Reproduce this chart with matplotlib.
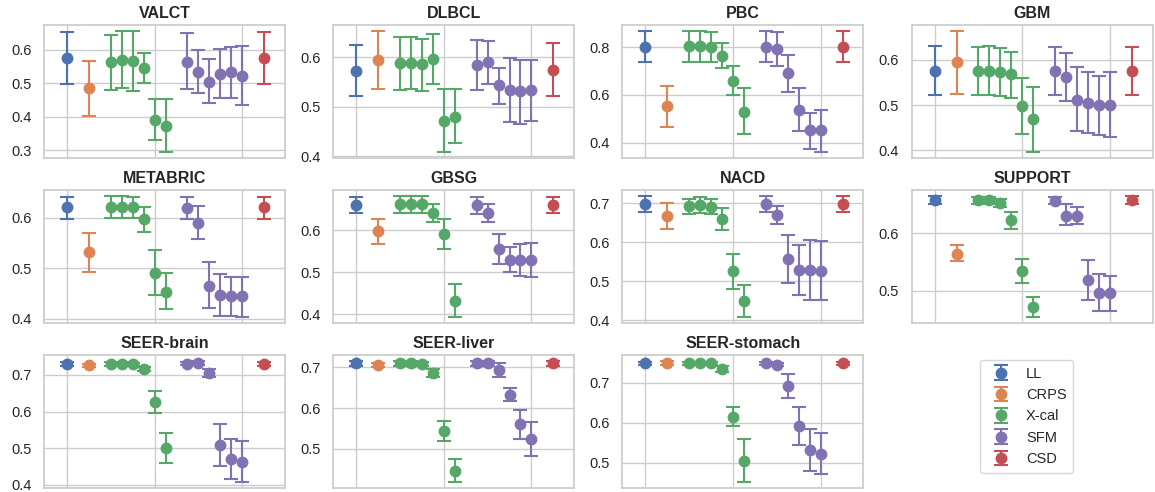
import matplotlib
matplotlib.use("Agg")
import matplotlib.pyplot as plt
from matplotlib.ticker import MultipleLocator, NullFormatter, FixedLocator
import seaborn as sns

sns.set_theme(style="whitegrid")
plt.rcParams['font.family'] = ['Liberation Sans', 'DejaVu Sans']

methods = ["LL", "CRPS", "X-cal", "SFM", "CSD"]
method_counts = [1, 1, 6, 6, 1]
colors = ["#4C72B0", "#DD8452", "#55A868", "#8172B3", "#C44E52"]

datasets = ["VALCT", "DLBCL", "PBC", "GBM", "METABRIC", "GBSG", "NACD",
            "SUPPORT", "SEER-brain", "SEER-liver", "SEER-stomach"]

# order: LL, CRPS, X-cal x6, SFM x6, CSD
VALCT_mean = [0.575, 0.485, 0.563, 0.570, 0.566, 0.545, 0.392, 0.373, 0.565, 0.534, 0.505, 0.527, 0.533, 0.522, 0.575]
VALCT_low  = [0.498, 0.403, 0.481, 0.486, 0.476, 0.501, 0.332, 0.296, 0.482, 0.470, 0.442, 0.455, 0.455, 0.434, 0.497]
VALCT_high = [0.653, 0.568, 0.645, 0.655, 0.656, 0.591, 0.454, 0.454, 0.651, 0.600, 0.572, 0.603, 0.609, 0.611, 0.654]

DLBCL_mean = [0.572, 0.594, 0.588, 0.589, 0.586, 0.596, 0.471, 0.480, 0.584, 0.591, 0.543, 0.534, 0.531, 0.534, 0.574]
DLBCL_low  = [0.521, 0.535, 0.534, 0.536, 0.531, 0.547, 0.409, 0.426, 0.533, 0.546, 0.505, 0.469, 0.466, 0.472, 0.521]
DLBCL_high = [0.624, 0.653, 0.642, 0.642, 0.638, 0.647, 0.535, 0.536, 0.636, 0.634, 0.579, 0.599, 0.595, 0.594, 0.628]

PBC_mean = [0.800, 0.552, 0.803, 0.803, 0.799, 0.764, 0.660, 0.530, 0.801, 0.794, 0.690, 0.538, 0.452, 0.452, 0.800]
PBC_low  = [0.737, 0.467, 0.738, 0.738, 0.736, 0.712, 0.600, 0.435, 0.736, 0.723, 0.613, 0.449, 0.375, 0.362, 0.737]
PBC_high = [0.866, 0.639, 0.867, 0.867, 0.862, 0.818, 0.719, 0.627, 0.866, 0.863, 0.765, 0.628, 0.526, 0.536, 0.866]

GBM_mean = [0.576, 0.594, 0.576, 0.576, 0.573, 0.568, 0.498, 0.469, 0.575, 0.562, 0.512, 0.504, 0.500, 0.500, 0.575]
GBM_low  = [0.523, 0.524, 0.523, 0.523, 0.520, 0.516, 0.437, 0.397, 0.523, 0.508, 0.442, 0.439, 0.434, 0.429, 0.522]
GBM_high = [0.631, 0.663, 0.628, 0.630, 0.625, 0.618, 0.559, 0.539, 0.627, 0.615, 0.583, 0.572, 0.565, 0.572, 0.627]

METABRIC_mean = [0.621, 0.532, 0.622, 0.622, 0.621, 0.598, 0.491, 0.453, 0.619, 0.590, 0.466, 0.448, 0.445, 0.445, 0.621]
METABRIC_low  = [0.598, 0.493, 0.600, 0.600, 0.599, 0.573, 0.447, 0.420, 0.597, 0.558, 0.421, 0.406, 0.405, 0.404, 0.598]
METABRIC_high = [0.642, 0.571, 0.643, 0.643, 0.641, 0.622, 0.536, 0.490, 0.641, 0.623, 0.512, 0.488, 0.484, 0.484, 0.642]

GBSG_mean = [0.660, 0.598, 0.661, 0.661, 0.661, 0.641, 0.590, 0.432, 0.659, 0.641, 0.555, 0.529, 0.529, 0.529, 0.660]
GBSG_low  = [0.641, 0.568, 0.641, 0.641, 0.641, 0.620, 0.555, 0.394, 0.638, 0.619, 0.520, 0.500, 0.492, 0.488, 0.641]
GBSG_high = [0.679, 0.627, 0.680, 0.680, 0.680, 0.661, 0.625, 0.471, 0.678, 0.662, 0.590, 0.560, 0.567, 0.570, 0.679]

NACD_mean = [0.698, 0.667, 0.692, 0.695, 0.691, 0.661, 0.526, 0.450, 0.697, 0.669, 0.557, 0.529, 0.529, 0.527, 0.698]
NACD_low  = [0.679, 0.634, 0.673, 0.675, 0.673, 0.631, 0.480, 0.409, 0.679, 0.647, 0.497, 0.464, 0.453, 0.452, 0.679]
NACD_high = [0.718, 0.700, 0.712, 0.715, 0.710, 0.689, 0.570, 0.491, 0.718, 0.693, 0.619, 0.594, 0.605, 0.604, 0.718]

SUPPORT_mean = [0.659, 0.564, 0.658, 0.658, 0.654, 0.623, 0.534, 0.471, 0.657, 0.631, 0.631, 0.519, 0.496, 0.495, 0.659]
SUPPORT_low  = [0.652, 0.551, 0.651, 0.651, 0.646, 0.608, 0.513, 0.454, 0.651, 0.614, 0.617, 0.484, 0.464, 0.464, 0.652]
SUPPORT_high = [0.665, 0.579, 0.664, 0.664, 0.661, 0.638, 0.556, 0.489, 0.664, 0.651, 0.646, 0.554, 0.529, 0.525, 0.665]

SEERbrain_mean = [0.730, 0.726, 0.730, 0.730, 0.729, 0.716, 0.627, 0.501, 0.731, 0.732, 0.705, 0.509, 0.471, 0.463, 0.730]
SEERbrain_low  = [0.725, 0.721, 0.725, 0.725, 0.724, 0.710, 0.597, 0.461, 0.726, 0.727, 0.694, 0.453, 0.417, 0.408, 0.725]
SEERbrain_high = [0.735, 0.731, 0.735, 0.735, 0.734, 0.722, 0.655, 0.543, 0.736, 0.737, 0.717, 0.566, 0.525, 0.519, 0.735]

SEERliver_mean = [0.709, 0.705, 0.709, 0.709, 0.707, 0.686, 0.544, 0.447, 0.709, 0.709, 0.693, 0.633, 0.560, 0.524, 0.709]
SEERliver_low  = [0.704, 0.701, 0.704, 0.704, 0.702, 0.676, 0.520, 0.419, 0.704, 0.704, 0.676, 0.616, 0.524, 0.483, 0.704]
SEERliver_high = [0.714, 0.709, 0.714, 0.714, 0.712, 0.696, 0.568, 0.476, 0.714, 0.714, 0.710, 0.650, 0.596, 0.565, 0.714]

SEERstomach_mean = [0.749, 0.750, 0.749, 0.749, 0.749, 0.735, 0.615, 0.504, 0.749, 0.746, 0.692, 0.593, 0.531, 0.522, 0.749]
SEERstomach_low  = [0.745, 0.746, 0.745, 0.745, 0.745, 0.728, 0.591, 0.451, 0.745, 0.742, 0.662, 0.545, 0.479, 0.470, 0.745]
SEERstomach_high = [0.753, 0.754, 0.753, 0.753, 0.753, 0.742, 0.640, 0.559, 0.753, 0.750, 0.722, 0.640, 0.583, 0.574, 0.753]

means = [VALCT_mean, DLBCL_mean, PBC_mean, GBM_mean, METABRIC_mean, GBSG_mean,
         NACD_mean, SUPPORT_mean, SEERbrain_mean, SEERliver_mean, SEERstomach_mean]
lows = [VALCT_low, DLBCL_low, PBC_low, GBM_low, METABRIC_low, GBSG_low,
        NACD_low, SUPPORT_low, SEERbrain_low, SEERliver_low, SEERstomach_low]
highs = [VALCT_high, DLBCL_high, PBC_high, GBM_high, METABRIC_high, GBSG_high,
         NACD_high, SUPPORT_high, SEERbrain_high, SEERliver_high, SEERstomach_high]
ytick_steps = [0.1, 0.1, 0.2, 0.1, 0.1, 0.1, 0.1, 0.1, 0.1, 0.1, 0.1]

# x positions: one empty slot between method groups
positions = []
groups = []
pos = 0
for gi, cnt in enumerate(method_counts):
    for k in range(cnt):
        positions.append(pos)
        groups.append(gi)
        pos += 1
    pos += 1

fig = plt.figure(figsize=(11.55, 4.92), dpi=100)
gs = fig.add_gridspec(3, 4, left=0.038, right=0.998, bottom=0.008, top=0.949,
                      wspace=0.20, hspace=0.245)

handles = {}
for i, name in enumerate(datasets):
    ax = fig.add_subplot(gs[i // 4, i % 4])
    m = means[i]; lo = lows[i]; hi = highs[i]
    for gi in range(len(methods)):
        idx = [j for j in range(len(m)) if groups[j] == gi]
        xs = [positions[j] for j in idx]
        ys = [m[j] for j in idx]
        err = [[m[j] - lo[j] for j in idx], [hi[j] - m[j] for j in idx]]
        h = ax.errorbar(xs, ys, yerr=err, fmt='o', color=colors[gi], markersize=7.5,
                        elinewidth=1.5, capsize=5, capthick=1.5, label=methods[gi])
        handles[methods[gi]] = h
    ax.set_xlim(-2.1, 19.9)
    ax.xaxis.set_major_locator(FixedLocator([0, 8, 16]))
    ax.xaxis.set_major_formatter(NullFormatter())
    ax.yaxis.set_major_locator(MultipleLocator(ytick_steps[i]))
    ax.tick_params(axis='y', labelsize=10.5, pad=3, colors='#262626')
    ax.tick_params(axis='x', length=0)
    ax.set_title(name, fontsize=11.5, fontweight='bold', pad=5)
    ax.grid(True, color='#cccccc', linewidth=1)
    for sp in ax.spines.values():
        sp.set_color('#cccccc')
        sp.set_linewidth(1.25)

lax = fig.add_subplot(gs[2, 3])
lax.axis('off')
lax.legend([handles[mm] for mm in methods], methods, loc='center',
           fontsize=10.5, frameon=True, edgecolor='#cccccc', borderpad=0.45,
           labelspacing=0.5, handlelength=2.0, handletextpad=0.7, borderaxespad=0,
           bbox_to_anchor=(0.477, 0.54))

fig.savefig("out.png", dpi=100)
